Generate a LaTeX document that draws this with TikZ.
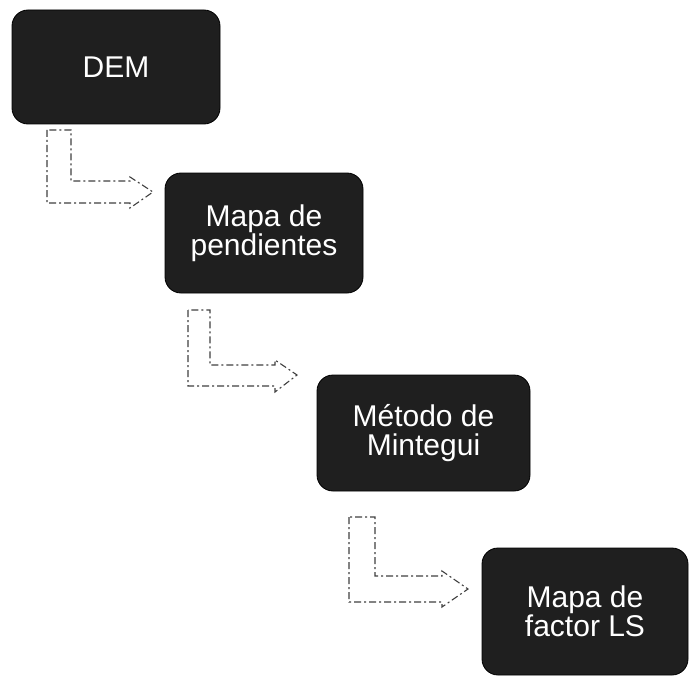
\documentclass[tikz,border=0pt]{standalone}
\usepackage{fontspec}
\setmainfont{Liberation Sans}
\begin{document}
\begin{tikzpicture}[x=1pt,y=-1pt,
  stepbox/.style={draw=black, line width=0.8pt, fill=black!88, rounded corners=16pt,
    text=white, inner sep=0pt, outer sep=0pt, align=center,
    font=\fontsize{30}{29}\selectfont},
  larrow/.style={draw=black!75, line width=1.1pt, fill=white, line join=miter,
    dash pattern=on 7pt off 3pt on 2pt off 3pt}]
\useasboundingbox (0,0) rectangle (689,677);
\node[stepbox, minimum width=208pt, minimum height=114pt] (b1) at (116,67) {DEM};
\node[stepbox, minimum width=198pt, minimum height=120pt] (b2) at (264,233) {Mapa de\\pendientes};
\node[stepbox, minimum width=213pt, minimum height=116pt] (b3) at (423.5,433) {Método de\\Mintegui};
\node[stepbox, minimum width=206pt, minimum height=127pt] (b4) at (585,611.5) {Mapa de\\factor LS};
% L-shaped block arrows
\draw[larrow] (47,130) -- (47,203) -- (130,203) -- (130,208) -- (153,192) -- (130,177) -- (130,181) -- (71,181) -- (71,130) -- cycle;
\draw[larrow] (188,310) -- (188,386) -- (275,386) -- (275,392) -- (297,375) -- (275,360) -- (275,365) -- (210,365) -- (210,310) -- cycle;
\draw[larrow] (349,517) -- (349,602) -- (442,602) -- (442,607) -- (468,589) -- (442,571) -- (442,576) -- (375,576) -- (375,517) -- cycle;
\end{tikzpicture}
\end{document}
